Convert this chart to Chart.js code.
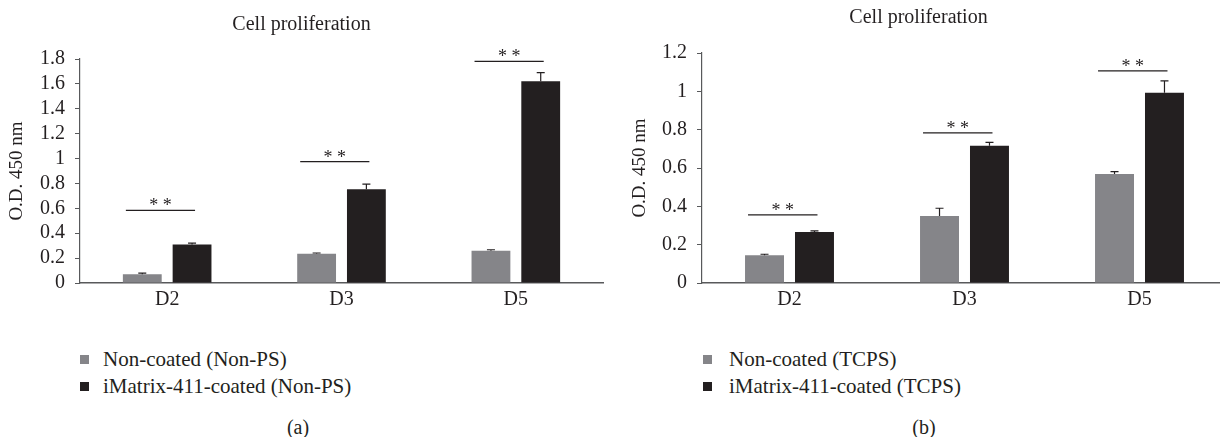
<!DOCTYPE html>
<html>
<head>
<meta charset="utf-8">
<script src="https://cdn.jsdelivr.net/npm/chart.js@4.4.0/dist/chart.umd.min.js"></script>
<style>
  body { margin: 0; width: 1220px; height: 437px; overflow: hidden; background: #fff; position: relative;
         font-family: "Liberation Serif", serif; color: #231f20; }
  #c1 { position: absolute; left: 0; top: 0; }
  #c2 { position: absolute; left: 610px; top: 0; }
  .legend { position: absolute; font-size: 21px; line-height: 20px; white-space: nowrap; }
  .legend .row { position: absolute; left: 0; }
  .legend .sw { position: absolute; left: 0; top: 6px; width: 9px; height: 9px; }
  .legend .tx { position: absolute; top: 0; }
  .cap { position: absolute; font-size: 20px; line-height: 20px; transform: translateX(-50%); }
</style>
</head>
<body>
<canvas id="c1" width="610" height="320"></canvas>
<canvas id="c2" width="630" height="320"></canvas>
<div class="legend" id="legA" style="left:80px; top:349px;"></div>
<div class="legend" id="legB" style="left:703px; top:349px;"></div>
<div class="cap" style="left:298px; top:417px;">(a)</div>
<div class="cap" style="left:924px; top:417px;">(b)</div>
<script>
var categories = ['D2', 'D3', 'D5'];

// panel (a)
var seriesA = ['Non-coated (Non-PS)', 'iMatrix-411-coated (Non-PS)'];
var nonCoatedA = [0.07, 0.235, 0.259];
var coatedA = [0.31, 0.754, 1.621];
var nonCoatedErrA = [0.01, 0.006, 0.008];
var coatedErrA = [0.011, 0.04, 0.069];
var sigA = [0.583, 0.976, 1.781];
var ticksA = ['0', '0.2', '0.4', '0.6', '0.8', '1', '1.2', '1.4', '1.6', '1.8'];

// panel (b)
var seriesB = ['Non-coated (TCPS)', 'iMatrix-411-coated (TCPS)'];
var nonCoatedB = [0.145, 0.350, 0.569];
var coatedB = [0.266, 0.716, 0.993];
var nonCoatedErrB = [0.005, 0.04, 0.012];
var coatedErrB = [0.006, 0.018, 0.062];
var sigB = [0.355, 0.783, 1.107];
var ticksB = ['0', '0.2', '0.4', '0.6', '0.8', '1', '1.2'];

var grey = '#858589';
var dark = '#231f20';
var axisColor = '#58595b';
var serif = '"Liberation Serif", serif';

// error whiskers + significance bars
var extras = {
  id: 'extras',
  afterDatasetsDraw: function(chart, args, opts) {
    var ctx = chart.ctx;
    var y = chart.scales.y;
    ctx.save();
    ctx.strokeStyle = dark;
    ctx.lineWidth = 1.2;
    chart.data.datasets.forEach(function(ds, di) {
      chart.getDatasetMeta(di).data.forEach(function(bar, i) {
        var top = y.getPixelForValue(ds.data[i] + opts.errors[di][i]);
        ctx.beginPath();
        ctx.moveTo(bar.x, bar.y);
        ctx.lineTo(bar.x, top);
        ctx.moveTo(bar.x - 4, top);
        ctx.lineTo(bar.x + 4, top);
        ctx.stroke();
      });
    });
    var g = chart.getDatasetMeta(0).data;
    var b = chart.getDatasetMeta(1).data;
    ctx.font = '18px ' + serif;
    ctx.textAlign = 'center';
    ctx.textBaseline = 'alphabetic';
    ctx.fillStyle = dark;
    opts.sig.forEach(function(v, i) {
      var py = y.getPixelForValue(v);
      var x0 = g[i].x - g[i].width / 2 + 3;
      var x1 = b[i].x + 3;
      ctx.beginPath();
      ctx.moveTo(x0, py);
      ctx.lineTo(x1, py);
      ctx.stroke();
      ctx.fillText('* *', (x0 + x1) / 2, py + 1);
    });
    ctx.restore();
  }
};

function makeChart(id, series, d0, d1, e0, e1, sig, ticks, yMax, opt) {
  return new Chart(document.getElementById(id), {
    type: 'bar',
    data: {
      labels: categories,
      datasets: [
        { label: series[0], data: d0, backgroundColor: grey },
        { label: series[1], data: d1, backgroundColor: dark }
      ]
    },
    options: {
      responsive: false,
      animation: false,
      categoryPercentage: 0.571,
      barPercentage: 0.78,
      layout: { padding: { left: 0, right: opt.padRight, top: 0, bottom: 0 } },
      plugins: {
        legend: { display: false },
        tooltip: { enabled: false },
        title: {
          display: true,
          text: 'Cell proliferation',
          color: dark,
          font: { family: serif, size: 20, weight: 'normal' },
          padding: { top: opt.titleTop, bottom: opt.titleBottom }
        },
        extras: { errors: [e0, e1], sig: sig }
      },
      scales: {
        x: {
          grid: { display: false, drawTicks: false },
          border: { color: axisColor, width: 1.5 },
          ticks: { color: dark, padding: 5, font: { family: serif, size: 20 } },
          afterFit: function(s) { s.height = 37; }
        },
        y: {
          min: 0,
          max: yMax,
          grid: { drawOnChartArea: false, drawTicks: true, tickLength: 5, color: axisColor },
          border: { color: axisColor, width: 1.2 },
          ticks: {
            stepSize: 0.2,
            autoSkip: false,
            color: dark,
            padding: 10,
            font: { family: serif, size: 20 },
            callback: function(v, i) { return ticks[i]; }
          },
          title: {
            display: true,
            text: 'O.D. 450 nm',
            color: dark,
            font: { family: serif, size: 19 },
            padding: { top: opt.yTitlePad, bottom: 0 }
          },
          afterFit: function(s) { s.width = opt.yWidth; }
        }
      }
    },
    plugins: [extras]
  });
}

makeChart('c1', seriesA, nonCoatedA, coatedA, nonCoatedErrA, coatedErrA, sigA, ticksA, 1.8,
  { padRight: 7, yWidth: 80, yTitlePad: 6, titleTop: 13, titleBottom: 22 });
makeChart('c2', seriesB, nonCoatedB, coatedB, nonCoatedErrB, coatedErrB, sigB, ticksB, 1.2,
  { padRight: 13, yWidth: 92, yTitlePad: 19, titleTop: 6, titleBottom: 23 });

function buildLegend(id, series, textLeft) {
  var el = document.getElementById(id);
  [grey, dark].forEach(function(c, i) {
    var row = document.createElement('div');
    row.className = 'row';
    row.style.top = (i * 27) + 'px';
    row.innerHTML = '<span class="sw" style="background:' + c + '"></span>' +
      '<span class="tx" style="left:' + textLeft + 'px">' + series[i] + '</span>';
    el.appendChild(row);
  });
}
buildLegend('legA', seriesA, 23);
buildLegend('legB', seriesB, 26);
</script>
</body>
</html>
